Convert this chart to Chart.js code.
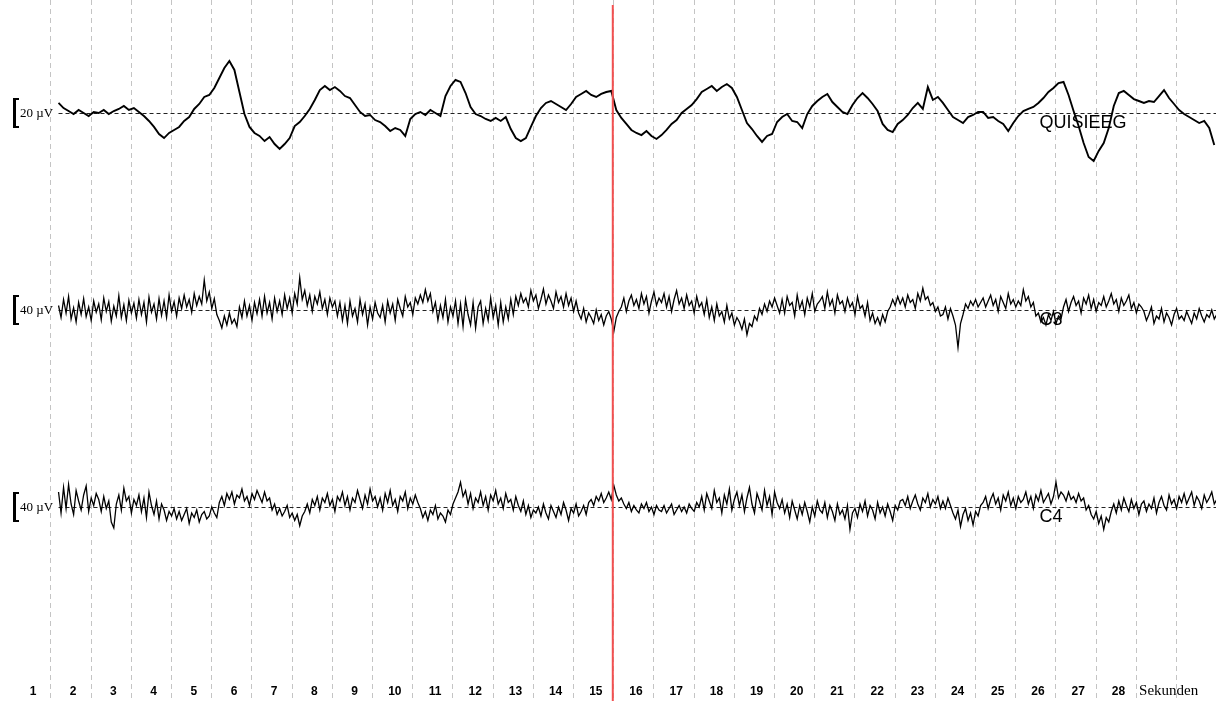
<!DOCTYPE html>
<html>
<head>
<meta charset="utf-8">
<script src="https://cdn.jsdelivr.net/npm/chart.js@4/dist/chart.umd.min.js"></script>
<style>
  html, body { margin: 0; padding: 0; background: #ffffff; }
  #wrap { width: 1216px; height: 701px; position: relative; }
</style>
</head>
<body>
<div id="wrap"><canvas id="c" width="1216" height="701"></canvas></div>
<script>
// ---------- DATA ----------
const channelNames = ['QUISIEEG', 'C3', 'C4'];
const scaleBarUv = [20, 40, 40];           // calibration bar heights (µV)
const secondLabels = ['1','2','3','4','5','6','7','8','9','10','11','12','13','14',
  '15','16','17','18','19','20','21','22','23','24','25','26','27','28'];
const unitLabel = 'Sekunden';
const gridSeconds = [0,1,2,3,4,5,6,7,8,9,10,11,12,13,14,15,16,17,18,19,20,21,22,23,24,25,26,27,28];
const markerSecond = 14;                   // red cursor
const sampleStart = 0.2;                   // s
const sampleSteps = [0.125, 0.0625, 0.0625]; // s per sample, per channel

// µV, one value per sample
const quisieeg = [
  6.7,3.3,1.3,-0.7,2,0,-2,0.7,
  0,2,-0.7,1.3,2.7,4.7,2,3.3,
  0.7,-2,-5.3,-9.3,-14,-16.7,-13.3,-11.3,
  -9.3,-5.3,-2.7,2.7,6,10.7,12,16.7,
  23.3,30,34.7,28.7,14,-0.7,-9.3,-13.3,
  -15.3,-18.7,-16,-20.7,-24,-20.7,-16.7,-8.7,
  -6,-2,2.7,8.7,15.3,18,15.3,17.3,
  14.7,11.3,10,5.3,0.7,-2,-1.3,-4.7,
  -6,-8.7,-12,-10,-11.3,-15.3,-4,-0.7,
  0.7,-1.3,2,0,-2,11.3,18,22,
  20.7,13.3,4,-0.7,-2,-4,-5.3,-3.3,
  -5.3,-2.7,-10.7,-16.7,-18.7,-16.7,-9.3,-2,
  3.3,6.7,8,6,4,2,6,10.7,
  12.7,14.7,12,10.7,12.7,14,14.7,2,
  -3.3,-7.3,-11.3,-13.3,-14.7,-12,-15.3,-17.3,
  -14.7,-11.3,-7.3,-4.7,0,2.7,5.3,9.3,
  14,16,18,14.7,17.3,19.3,16.7,10.7,
  2,-6.7,-10.7,-15.3,-19.3,-15.3,-14,-6,
  -2.7,-0.7,-5.3,-6,-10,-0.7,4.7,8,
  10.7,12.7,7.3,4,0.7,-0.7,5.3,10,
  13.3,10,6,1.3,-7.3,-11.3,-12.7,-7.3,
  -4.7,-1.3,3.3,6.7,2.7,17.3,8.7,10.7,
  6.7,2,-2.7,-4.7,-6.7,-2.7,-1.3,0.7,
  0.7,-3.3,-2.7,-5.3,-7.3,-12,-6.7,-2,
  1.3,2.7,4,6.7,10,14,16.7,20,
  20.7,12,1.3,-8.7,-20,-29.3,-32,-25.3,
  -20,-10,4.7,13.3,14.7,12,9.3,8,
  6.7,8,7.3,11.3,15.3,10,6,2,
  -0.7,-2.7,-4.7,-6.7,-5.3,-10,-21.3
];
const c3 = [
  6,-10,14,-4,18,-12,3,-16,10,-6,15,-9,4,-14,12,-3,
  8,-13,16,-2,11,-15,5,-8,19,-10,7,-14,13,-4,9,-11,
  14,-6,10,-16,17,-3,8,-12,15,-7,12,-10,20,-2,11,-8,
  16,2,20,4,14,-3,22,6,18,8,40,12,24,2,15,-6,
  -14,-24,-8,-20,-4,-18,-12,-22,4,-10,12,-8,6,-14,10,-5,
  14,-8,18,-4,10,-12,16,-2,12,-6,20,2,16,-4,22,8,
  43,14,26,6,20,-2,18,8,24,2,14,-6,16,4,12,-8,
  10,-14,6,-18,12,-8,2,-16,14,-6,8,-20,4,-12,10,-4,
  -10,6,-16,12,-4,8,-14,14,2,-8,18,4,10,-6,16,8,
  20,10,27,12,22,-2,10,-14,6,-10,14,-16,4,-8,12,-18,
  8,-22,14,-6,-20,10,-24,4,12,-18,2,-14,16,-10,6,-20,
  10,-16,4,-12,14,-6,18,6,22,10,16,4,26,12,20,2,
  14,28,8,20,12,2,24,10,18,4,22,6,16,-2,12,-4,
  -12,2,-16,-4,-10,-18,0,-14,-6,-20,-8,-2,-12,-29,-10,-2,
  4,16,-2,12,20,6,14,2,22,8,18,-4,12,24,6,16,
  10,22,4,18,-2,14,26,8,16,2,20,6,12,-4,18,4,
  10,-6,14,-10,4,-14,8,-8,-2,-16,6,-12,-4,-20,-10,-16,
  -26,-12,-33,-18,-22,-8,-14,2,-6,8,-2,12,4,16,6,-4,
  14,-4,18,6,10,-8,20,2,12,-6,16,4,22,-2,8,12,
  18,2,24,6,14,-4,20,8,12,-2,16,4,10,-6,18,2,
  6,-8,10,-14,-4,-18,-10,-20,-6,-16,-2,4,14,6,18,8,
  16,4,20,10,14,2,22,12,29,14,18,6,10,-2,4,-8,
  -6,4,-12,2,-8,-20,-50,-18,-6,8,2,12,6,14,4,10,
  16,4,12,20,6,14,-2,18,10,2,22,8,14,4,12,6,
  27,12,18,4,10,-8,-4,-16,-10,-20,-6,-14,-2,-18,-8,-12,
  4,14,-2,10,18,6,12,-4,16,8,20,2,14,-2,10,6,
  18,4,12,22,8,14,-2,16,6,12,20,2,10,-4,8,4,
  -2,-14,-6,4,-18,-8,-12,2,-16,-4,-10,-20,-6,2,-12,-8,
  -14,-2,-10,-18,-4,-12,2,-8,-16,-6,-10,0,-12,-6
];
const c4 = [
  20,-8,26,-2,30,4,-10,22,8,-4,16,28,-6,12,2,18,
  10,-6,14,-2,8,-20,-28,4,16,-4,25,8,14,-8,10,2,
  16,-6,12,-14,20,2,-10,8,-16,4,-4,-18,-6,-12,-2,-16,
  -6,-18,-10,-2,-22,-8,-14,-4,-20,-10,-6,-16,-12,0,-8,-14,
  6,14,2,18,10,20,4,16,12,24,8,14,2,18,10,22,
  14,6,20,8,12,-4,4,-10,-2,-12,-6,2,-14,-8,-18,-10,
  -25,-12,-6,4,-8,10,2,14,-4,12,6,18,2,10,-6,14,
  8,20,2,14,-4,12,6,22,10,-2,16,4,24,8,14,0,
  12,-4,18,6,22,2,10,-6,14,8,20,-2,12,4,16,6,
  -2,-14,-6,-18,-4,-10,2,-16,-8,-12,-20,-4,-10,4,12,20,
  33,14,22,4,18,-2,12,6,20,2,14,-4,16,8,22,4,
  12,-2,18,6,10,-4,14,2,-6,8,-10,2,-14,-4,-8,0,
  -12,4,-8,-16,2,-6,-14,0,-10,6,-4,-18,-2,-8,4,-12,
  -6,2,-10,6,10,2,14,8,18,6,12,20,10,29,16,8,
  12,4,-2,6,-6,2,-4,-8,4,-2,6,-6,0,-10,2,-4,
  -6,2,-8,-2,4,-10,-4,2,-6,0,-8,4,-2,-6,6,0,
  14,-4,18,8,-2,22,6,12,-8,16,4,24,-4,10,20,2,
  16,-6,12,26,4,-8,18,8,-4,22,2,14,-10,20,6,-2,
  10,-8,4,-14,8,-4,-16,2,-10,6,-6,-20,0,-12,8,-4,
  -8,6,-14,2,-6,-18,4,-10,-4,-16,2,-30,-8,-2,-14,4,
  -6,8,-12,2,-4,-16,6,-8,0,-12,4,-6,-18,2,-4,8,
  10,2,14,-2,8,16,4,-4,12,6,18,0,10,4,14,-2,
  8,-2,12,2,-8,-16,-4,-26,-10,-2,-18,-8,-24,-6,-12,2,
  6,14,-2,10,18,4,12,-4,16,8,20,2,12,-2,14,6,
  10,20,4,14,-2,16,8,22,6,12,18,4,14,33,12,20,
  16,8,20,10,14,6,18,8,12,-4,2,-10,-16,-6,-22,-12,
  -30,-14,-20,-6,4,-8,8,-4,12,2,-6,10,-2,6,-10,4,
  8,-6,4,-2,12,-8,6,14,2,-4,16,4,10,-2,14,6,
  18,4,12,20,2,14,8,-2,16,6,12,20,4,10
];

// ---------- LAYOUT ----------
const W = 1216, H = 701;
const xMin = -1.256, xMax = 28.993;             // seconds visible
const chanLayout = [                             // baseline pixel row, pixels per µV, stroke
  { base: 113, gain: 1.5, width: 1.9 },
  { base: 310, gain: 0.75, width: 1.3 },
  { base: 507, gain: 0.75, width: 1.3 }
];
const series = [quisieeg, c3, c4];

function toPoints(vals, step) {
  return vals.map((v, i) => ({ x: sampleStart + i * step, y: v }));
}

const scales = {
  x: { type: 'linear', min: xMin, max: xMax, display: false }
};
chanLayout.forEach((c, i) => {
  scales['y' + i] = {
    type: 'linear', display: false,
    max: c.base / c.gain,
    min: -(H - c.base) / c.gain
  };
});

const decor = {
  id: 'eegDecor',
  beforeDatasetsDraw(chart) {
    const ctx = chart.ctx, xs = chart.scales.x;
    const top = chart.chartArea.top, bottom = chart.chartArea.bottom;
    ctx.save();
    // vertical second grid
    ctx.strokeStyle = '#c4c4c4';
    ctx.lineWidth = 1;
    ctx.setLineDash([5, 4]);
    gridSeconds.forEach(s => {
      const px = Math.round(xs.getPixelForValue(s)) + 0.5;
      ctx.beginPath(); ctx.moveTo(px, top); ctx.lineTo(px, bottom); ctx.stroke();
    });
    // channel baselines
    ctx.strokeStyle = '#222';
    ctx.setLineDash([4, 3]);
    chanLayout.forEach((c, i) => {
      const ys = chart.scales['y' + i];
      const py = Math.round(ys.getPixelForValue(0)) + 0.5;
      ctx.beginPath();
      ctx.moveTo(xs.getPixelForValue(sampleStart), py);
      ctx.lineTo(chart.chartArea.right, py);
      ctx.stroke();
    });
    ctx.setLineDash([]);
    // calibration bars + labels
    ctx.fillStyle = '#000';
    chanLayout.forEach((c, i) => {
      const ys = chart.scales['y' + i];
      const y1 = ys.getPixelForValue(scaleBarUv[i] / 2);
      const y2 = ys.getPixelForValue(-scaleBarUv[i] / 2);
      ctx.fillRect(13, y1, 3, y2 - y1);
      ctx.fillRect(13, y1, 6, 2);
      ctx.fillRect(13, y2 - 2, 6, 2);
      ctx.font = '13px "Liberation Serif", "DejaVu Serif", serif';
      ctx.textBaseline = 'middle';
      ctx.textAlign = 'left';
      ctx.fillText(scaleBarUv[i] + ' \u00b5V', 20, ys.getPixelForValue(0) + 1);
    });
    // second labels
    ctx.font = 'bold 12px "Liberation Sans", Arial, sans-serif';
    ctx.textAlign = 'center';
    ctx.textBaseline = 'middle';
    secondLabels.forEach((t, i) => {
      ctx.fillText(t, xs.getPixelForValue(i - 0.435), 692);
    });
    ctx.font = '15px "Liberation Serif", "DejaVu Serif", serif';
    ctx.textAlign = 'left';
    ctx.fillText(unitLabel, xs.getPixelForValue(27.08), 691);
    ctx.restore();
  },
  afterDatasetsDraw(chart) {
    const ctx = chart.ctx, xs = chart.scales.x;
    ctx.save();
    // channel names
    ctx.fillStyle = '#000';
    ctx.font = '18px "Liberation Sans", Arial, sans-serif';
    ctx.textAlign = 'left';
    ctx.textBaseline = 'middle';
    chanLayout.forEach((c, i) => {
      const ys = chart.scales['y' + i];
      ctx.fillText(channelNames[i], xs.getPixelForValue(24.6), ys.getPixelForValue(0) + 10);
    });
    // red cursor
    ctx.strokeStyle = 'rgb(242,80,80)';
    ctx.lineWidth = 2;
    const px = xs.getPixelForValue(markerSecond) - 0.5;
    ctx.beginPath(); ctx.moveTo(px, 5); ctx.lineTo(px, chart.chartArea.bottom); ctx.stroke();
    ctx.restore();
  }
};

new Chart(document.getElementById('c'), {
  type: 'line',
  data: {
    datasets: series.map((vals, i) => ({
      label: channelNames[i],
      data: toPoints(vals, sampleSteps[i]),
      yAxisID: 'y' + i,
      borderColor: '#000',
      borderWidth: chanLayout[i].width,
      pointRadius: 0,
      tension: 0,
      fill: false
    }))
  },
  options: {
    responsive: false,
    animation: false,
    layout: { padding: 0 },
    plugins: { legend: { display: false }, tooltip: { enabled: false }, title: { display: false } },
    scales: scales
  },
  plugins: [decor]
});
</script>
</body>
</html>
